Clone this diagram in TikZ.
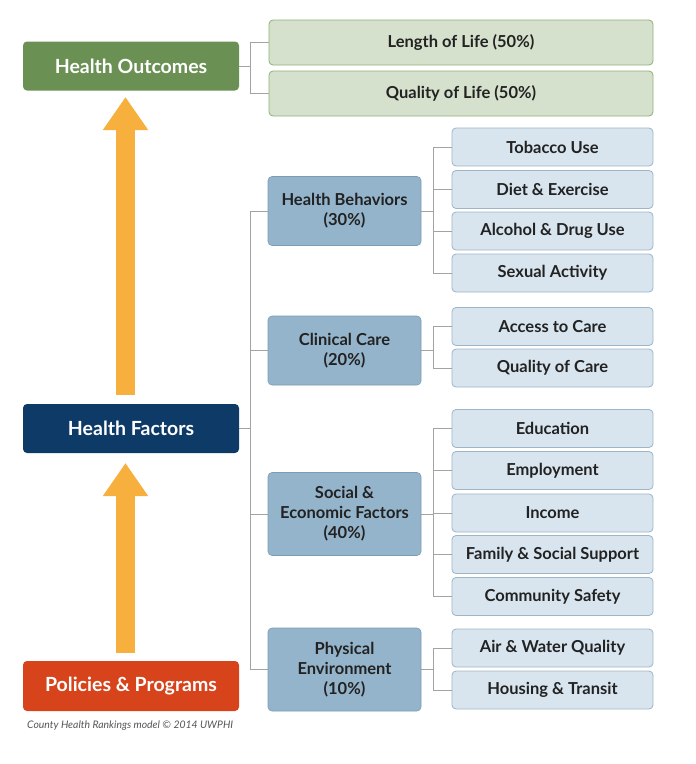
\documentclass[tikz,border=0pt]{standalone}
\usepackage{fontspec}
\setmainfont{Lato}
\usetikzlibrary{arrows.meta}

\definecolor{outgreen}{HTML}{6A9153}
\definecolor{lightgreen}{HTML}{D5E1CC}
\definecolor{greenline}{HTML}{8FAE78}
\definecolor{factblue}{HTML}{0E3A68}
\definecolor{polred}{HTML}{D7441B}
\definecolor{arroworange}{HTML}{F7AF3D}
\definecolor{groupblue}{HTML}{94B4CB}
\definecolor{groupline}{HTML}{7D9DB6}
\definecolor{leafblue}{HTML}{D8E5EE}
\definecolor{leafline}{HTML}{9DB5C8}
\definecolor{connline}{HTML}{A3A3A3}
\definecolor{textdark}{HTML}{222222}
\definecolor{creditgray}{HTML}{555555}

\begin{document}
\begin{tikzpicture}[x=1pt, y=-1pt,
    topbox/.style={rounded corners=4pt, minimum width=216pt, minimum height=49pt,
        text=white, font=\fontsize{19.5}{22}\selectfont\bfseries},
    lifebox/.style={draw=greenline, fill=lightgreen, rounded corners=4pt, line width=0.8pt,
        minimum width=384pt, minimum height=45pt, text=textdark,
        font=\fontsize{16.5}{19}\selectfont\bfseries},
    groupbox/.style={draw=groupline, fill=groupblue, rounded corners=4pt, line width=0.6pt,
        minimum width=153pt, align=center, text=textdark,
        font=\fontsize{16.5}{20}\selectfont\bfseries},
    leafbox/.style={draw=leafline, fill=leafblue, rounded corners=4pt, line width=0.8pt,
        minimum width=201pt, minimum height=38pt, text=textdark,
        font=\fontsize{16.5}{19}\selectfont\bfseries},
    conn/.style={draw=connline, line width=1pt},
    bigarrow/.style={draw=arroworange, line width=19pt,
        -{Triangle[width=43pt, length=33pt, fill=arroworange]}}]

    \useasboundingbox (0,0) rectangle (696,764);

    % Left column
    \node[topbox, fill=outgreen] (ho) at (131,66) {Health Outcomes};
    \node[topbox, fill=factblue] (hf) at (131,428.5) {Health Factors};
    \node[topbox, fill=polred, minimum height=50pt] (pp) at (131,686) {Policies \& Programs};
    \node[anchor=west, text=creditgray, inner sep=0pt, font=\fontsize{10.4}{12}\selectfont\itshape]
        (credit) at (27,726) {County Health Rankings model © 2014 UWPHI};

    % Orange arrows
    \coordinate (a1s) at (125.5,395);
    \coordinate (a1e) at (125.5,97);
    \coordinate (a2s) at (125.5,653);
    \coordinate (a2e) at (125.5,463);
    \draw[bigarrow] (a1s) -- (a1e);
    \draw[bigarrow] (a2s) -- (a2e);

    % Outcomes
    \node[lifebox] (life) at (461,42.5) {Length of Life (50\%)};
    \node[lifebox] (qual) at (461,93.5) {Quality of Life (50\%)};

    % Factor groups
    \node[groupbox, minimum height=69pt] (beh) at (344.5,211) {Health Behaviors\\(30\%)};
    \node[groupbox, minimum height=69pt] (clin) at (344.5,350.5) {Clinical Care\\(20\%)};
    \node[groupbox, minimum height=83pt] (soc) at (344.5,514) {Social \&\\Economic Factors\\(40\%)};
    \node[groupbox, minimum height=83pt] (phys) at (344.5,669.5) {Physical\\Environment\\(10\%)};

    % Measures
    \node[leafbox] (tob) at (552.5,147) {Tobacco Use};
    \node[leafbox] (diet) at (552.5,189.5) {Diet \& Exercise};
    \node[leafbox] (alc) at (552.5,231) {Alcohol \& Drug Use};
    \node[leafbox] (sex) at (552.5,273) {Sexual Activity};
    \node[leafbox] (acc) at (552.5,326.5) {Access to Care};
    \node[leafbox] (qoc) at (552.5,368) {Quality of Care};
    \node[leafbox] (edu) at (552.5,428.5) {Education};
    \node[leafbox] (emp) at (552.5,470.5) {Employment};
    \node[leafbox] (inc) at (552.5,513) {Income};
    \node[leafbox] (fam) at (552.5,554.5) {Family \& Social Support};
    \node[leafbox] (com) at (552.5,596.5) {Community Safety};
    \node[leafbox] (air) at (552.5,648) {Air \& Water Quality};
    \node[leafbox] (hou) at (552.5,690) {Housing \& Transit};

    % Brackets
    \draw[conn] (ho.east) -- ++(11,0) |- (life.west);
    \draw[conn] (ho.east) -- ++(11,0) |- (qual.west);

    \draw[conn] (hf.east) -- ++(11,0) |- (beh.west);
    \draw[conn] (hf.east) -- ++(11,0) |- (clin.west);
    \draw[conn] (hf.east) -- ++(11,0) |- (soc.west);
    \draw[conn] (hf.east) -- ++(11,0) |- (phys.west);

    \draw[conn] (beh.east) -- ++(12,0) |- (tob.west);
    \draw[conn] (beh.east) -- ++(12,0) |- (diet.west);
    \draw[conn] (beh.east) -- ++(12,0) |- (alc.west);
    \draw[conn] (beh.east) -- ++(12,0) |- (sex.west);

    \draw[conn] (clin.east) -- ++(12,0) |- (acc.west);
    \draw[conn] (clin.east) -- ++(12,0) |- (qoc.west);

    \draw[conn] (soc.east) -- ++(12,0) |- (edu.west);
    \draw[conn] (soc.east) -- ++(12,0) |- (emp.west);
    \draw[conn] (soc.east) -- ++(12,0) |- (inc.west);
    \draw[conn] (soc.east) -- ++(12,0) |- (fam.west);
    \draw[conn] (soc.east) -- ++(12,0) |- (com.west);

    \draw[conn] (phys.east) -- ++(12,0) |- (air.west);
    \draw[conn] (phys.east) -- ++(12,0) |- (hou.west);

\end{tikzpicture}
\end{document}
